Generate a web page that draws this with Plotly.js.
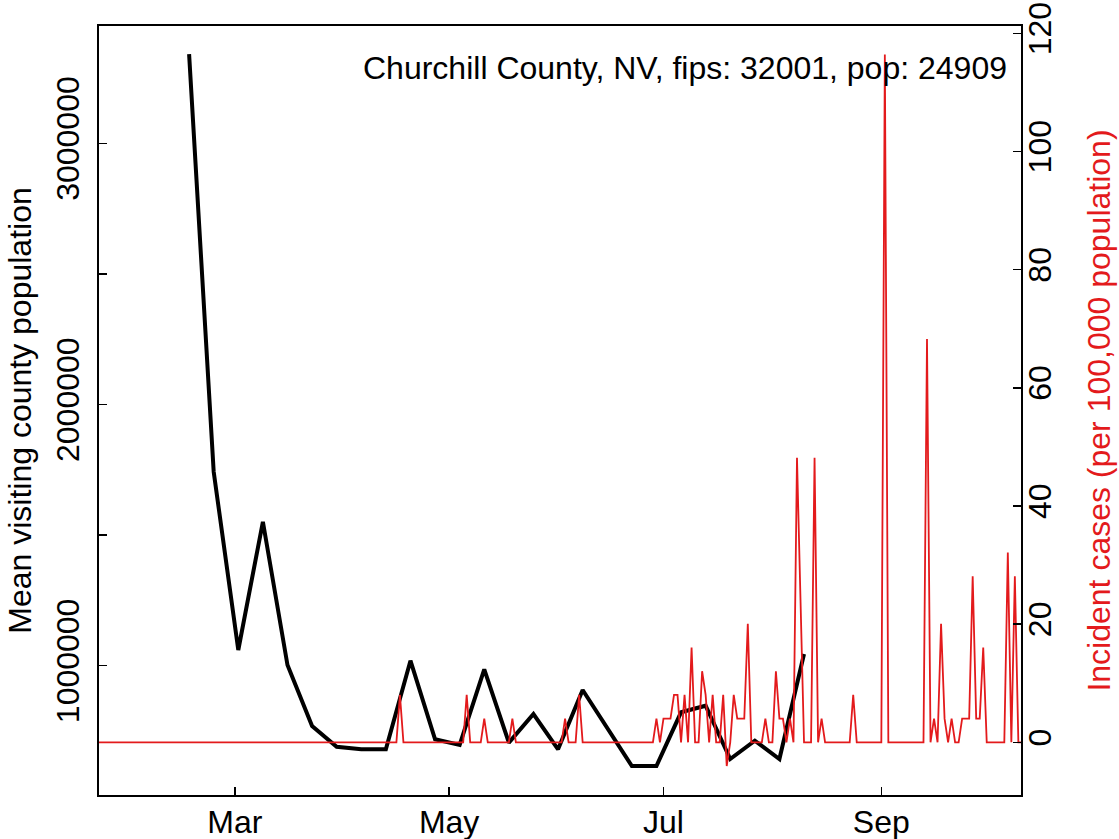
<!DOCTYPE html>
<html>
<head>
<meta charset="utf-8">
<script src="https://cdn.plot.ly/plotly-3.0.1.min.js"></script>
<style>html,body{margin:0;padding:0;background:#fff;}#chart{width:1119px;height:839px;}</style>
</head>
<body>
<div id="chart"></div>
<script>
// Weekly mean visiting county population (black line)
const weekDates = [
  "2020-02-17","2020-02-24","2020-03-02","2020-03-09","2020-03-16","2020-03-23","2020-03-30",
  "2020-04-06","2020-04-13","2020-04-20","2020-04-27","2020-05-04","2020-05-11","2020-05-18",
  "2020-05-25","2020-06-01","2020-06-08","2020-06-15","2020-06-22","2020-06-29","2020-07-06",
  "2020-07-13","2020-07-20","2020-07-27","2020-08-03","2020-08-10"
];
const visitingPop = [
  3342000, 1742700, 1060000, 1551000, 1002600, 769000, 689700,
  679800, 679800, 1019000, 718100, 696300, 986100, 705100,
  815000, 679800, 906800, 761300, 615800, 615800, 821400,
  846700, 642600, 712700, 642600, 1044700
];

// Daily incident cases per 100,000 population (red line), one value per day from caseStart
const caseStart = "2020-01-22";
const incidentJan = [0,0,0,0,0,0,0,0,0,0];
const incidentFeb = [0,0,0,0,0,0,0,0,0,0, 0,0,0,0,0,0,0,0,0,0, 0,0,0,0,0,0,0,0,0];
const incidentMar = [0,0,0,0,0,0,0,0,0,0, 0,0,0,0,0,0,0,0,0,0, 0,0,0,0,0,0,0,0,0,0, 0];
const incidentApr = [0,0,0,0,0,0,0,0,0,0, 0,0,0,0,0,0,8.03,0,0,0, 0,0,0,0,0,0,0,0,0,0];
const incidentMay = [0,0,0,0,0,8.03,0,0,0,0, 4.01,0,0,0,0,0,0,0,4.01,0, 0,0,0,0,0,0,0,0,0,0, 0];
const incidentJun = [0,0,4.01,0,0,0,8.03,0,0,0, 0,0,0,0,0,0,0,0,0,0, 0,0,0,0,0,0,0,0,4.01,0];
const incidentJul = [4.01,4.01,4.01,8.03,8.03,0,8.03,0,16.06,0, 0,12.04,8.03,0,8.03,0,0,8.03,-4.01,0,
                     8.03,4.01,4.01,4.01,20.07,0,0,0,0,4.01, 0];
const incidentAug = [0,12.04,4.01,4.01,0,4.01,0,48.17,24.09,0, 0,0,48.17,0,4.01,0,0,0,0,0,
                     0,0,0,8.03,0,0,0,0,0,0, 0];
const incidentSep = [0,116.42,0,0,0,0,0,0,0,0, 0,0,0,68.25,0,4.01,0,20.07,4.01,0,
                     4.01,0,0,4.01,4.01,4.01,28.1,4.01,4.01,16.06];
const incidentOct = [0,0,0,0,0,0,32.12,0,28.1,0, 0];

const incidentRate = [].concat(incidentJan, incidentFeb, incidentMar, incidentApr, incidentMay,
                               incidentJun, incidentJul, incidentAug, incidentSep, incidentOct);
const caseDates = incidentRate.map((_, i) => {
  const d = new Date(caseStart + "T00:00:00Z");
  d.setUTCDate(d.getUTCDate() + i);
  return d.toISOString().slice(0, 10);
});

const monthTicks = ["2020-03-01","2020-05-01","2020-07-01","2020-09-01"];
const monthLabels = ["Mar","May","Jul","Sep"];
const leftTicks = [1000000,1500000,2000000,2500000,3000000];
const leftLabels = ["1000000","","2000000","","3000000"];
const rightTicks = [0,20,40,60,80,100,120];
const rightLabels = ["0","20","40","60","80","100","120"];
const titleText = "Churchill County, NV, fips: 32001, pop: 24909";

const FONT = "Liberation Sans, Arial, Helvetica, sans-serif";
const RED = "#E31A1C";
const FS = 32;

const traces = [
  {x: weekDates, y: visitingPop, type: "scatter", mode: "lines", yaxis: "y",
   line: {color: "#000000", width: 4}, hoverinfo: "skip", showlegend: false},
  {x: caseDates, y: incidentRate, type: "scatter", mode: "lines", yaxis: "y2",
   line: {color: RED, width: 1.8}, hoverinfo: "skip", showlegend: false}
];

const layout = {
  width: 1119, height: 839,
  margin: {l: 99, r: 98, t: 26, b: 44, pad: 0},
  paper_bgcolor: "#ffffff", plot_bgcolor: "#ffffff",
  font: {family: FONT, size: FS, color: "#000000"},
  showlegend: false,
  xaxis: {
    type: "date", range: ["2020-01-22 08:38", "2020-10-10 18:00"],
    tickmode: "array", tickvals: monthTicks, ticktext: monthLabels,
    ticks: "inside", ticklen: 8, tickwidth: 1.5, tickcolor: "#000",
    showline: true, linecolor: "#000", linewidth: 2, mirror: true,
    showgrid: false, zeroline: false,
    tickfont: {family: FONT, size: FS, color: "#000"},
    ticklabelstandoff: -2
  },
  yaxis: {
    range: [504800, 3449250],
    tickmode: "array", tickvals: leftTicks, ticktext: leftLabels, tickangle: -90,
    ticks: "inside", ticklen: 8, tickwidth: 1.5, tickcolor: "#000",
    showline: true, linecolor: "#000", linewidth: 2,
    showgrid: false, zeroline: false,
    tickfont: {family: FONT, size: FS, color: "#000"},
    ticklabelstandoff: 5,
    title: {text: "Mean visiting county population", font: {family: FONT, size: FS, color: "#000"}, standoff: 9}
  },
  yaxis2: {
    overlaying: "y", side: "right",
    range: [-8.914, 121.24],
    tickmode: "array", tickvals: rightTicks, ticktext: rightLabels, tickangle: -90,
    ticks: "inside", ticklen: 8, tickwidth: 1.5, tickcolor: "#000",
    showline: true, linecolor: "#000", linewidth: 2,
    showgrid: false, zeroline: false,
    tickfont: {family: FONT, size: FS, color: "#000"},
    ticklabelstandoff: -10,
    title: {text: "Incident cases (per 100,000 population)", font: {family: FONT, size: FS, color: RED}, standoff: 30}
  },
  annotations: [{
    text: titleText, xref: "paper", yref: "paper", x: 0.9865, y: 0.9454,
    xanchor: "right", yanchor: "middle", showarrow: false,
    font: {family: FONT, size: FS, color: "#000"}
  }]
};

Plotly.newPlot("chart", traces, layout, {staticPlot: true, displayModeBar: false});
</script>
</body>
</html>
